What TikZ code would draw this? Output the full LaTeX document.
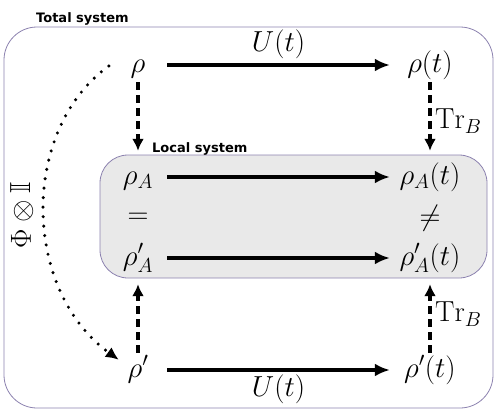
\RequirePackage{fix-cm}
\documentclass[tikz,border=0pt]{standalone}
\usepackage{amssymb}
\usepackage{fontspec}
\newfontfamily\tagfont{DejaVu Sans}
\usetikzlibrary{positioning, arrows.meta}

\definecolor{frame}{RGB}{140,130,175}
\definecolor{localfill}{RGB}{233,233,233}

\begin{document}
\begin{tikzpicture}[
		x=1pt, y=1pt,
		>={Latex[length=15pt, width=13pt]},
		state/.style={font=\fontsize{29}{34}\selectfont, inner sep=0pt, text height=21pt, text depth=7pt},
		lstate/.style={state, minimum width=58pt},
		rstate/.style={state, minimum width=80pt},
		lbl/.style={font=\fontsize{29}{34}\selectfont},
		evol/.style={->, line width=3.4pt},
		trace/.style={-{Latex[length=12pt, width=12pt]}, line width=3.8pt, dash pattern=on 8pt off 5pt, shorten <=3pt, shorten >=12pt},
		channel/.style={-{Latex[length=13pt, width=12pt]}, line width=3.4pt, line cap=round, dash pattern=on 0pt off 9.5pt},
		tag/.style={font=\tagfont\bfseries\fontsize{13}{15}\selectfont, inner sep=0pt, anchor=base west},
		sysbox/.style={draw=frame, line width=0.8pt, inner sep=0pt}
		]
		\useasboundingbox (0,0) rectangle (498,-415);
		
		% --- Systems ---
		\node[sysbox, rounded corners=33pt, minimum width=489pt, minimum height=381pt] (total) at (248.5,-217.5) {};
		\node[sysbox, fill=localfill, rounded corners=28pt, minimum width=387pt, minimum height=123pt] (local) at (293.5,-216.5) {};
		\node[tag] (totaltag) at (36,-23) {Total system};
		\node[tag] (localtag) at (152,-152) {Local system};
		
		% --- States ---
		\node[lstate] (rho) at (138,-65) {$\rho$};
		\node[rstate] (rhot) at (430,-65) {$\rho(t)$};
		\node[lstate] (rhoA) at (138,-177) {$\rho_A$};
		\node[rstate] (rhoAt) at (430,-177) {$\rho_A(t)$};
		\node[lbl] (eq) at (138,-218) {$=$};
		\node[lbl] (neq) at (430,-218) {$\neq$};
		\node[lstate] (rhopA) at (138,-258) {$\rho'_A$};
		\node[rstate] (rhopAt) at (430,-258) {$\rho'_A(t)$};
		\node[lstate] (rhop) at (138,-370) {$\rho'$};
		\node[rstate] (rhopt) at (430,-370) {$\rho'(t)$};
		
		% --- Evolution ---
		\draw[evol] (rho) -- node[lbl, above=1pt] {$U(t)$} (rhot);
		\draw[evol] (rhoA) -- (rhoAt);
		\draw[evol] (rhopA) -- (rhopAt);
		\draw[evol] (rhop) -- node[lbl, below=0pt] {$U(t)$} (rhopt);
		
		% --- Partial traces ---
		\draw[trace] (rho) -- (rhoA);
		\draw[trace] (rhot) -- node[lbl, right=0pt] {$\mathrm{Tr}_B$} (rhoAt);
		\draw[trace] (rhop) -- (rhopA);
		\draw[trace] (rhopt) -- node[lbl, right=0pt] {$\mathrm{Tr}_B$} (rhopAt);
		
		% --- Local operation ---
		\draw[channel] ([yshift=-1pt]rho.west) .. controls (20,-130) and (22,-290) .. ([shift={(10pt,-4pt)}]rhop.north west);
		\node[lbl, rotate=90] (phi) at (22,-215) {$\Phi\otimes\mathbb{I}$};
		
	\end{tikzpicture}
\end{document}
